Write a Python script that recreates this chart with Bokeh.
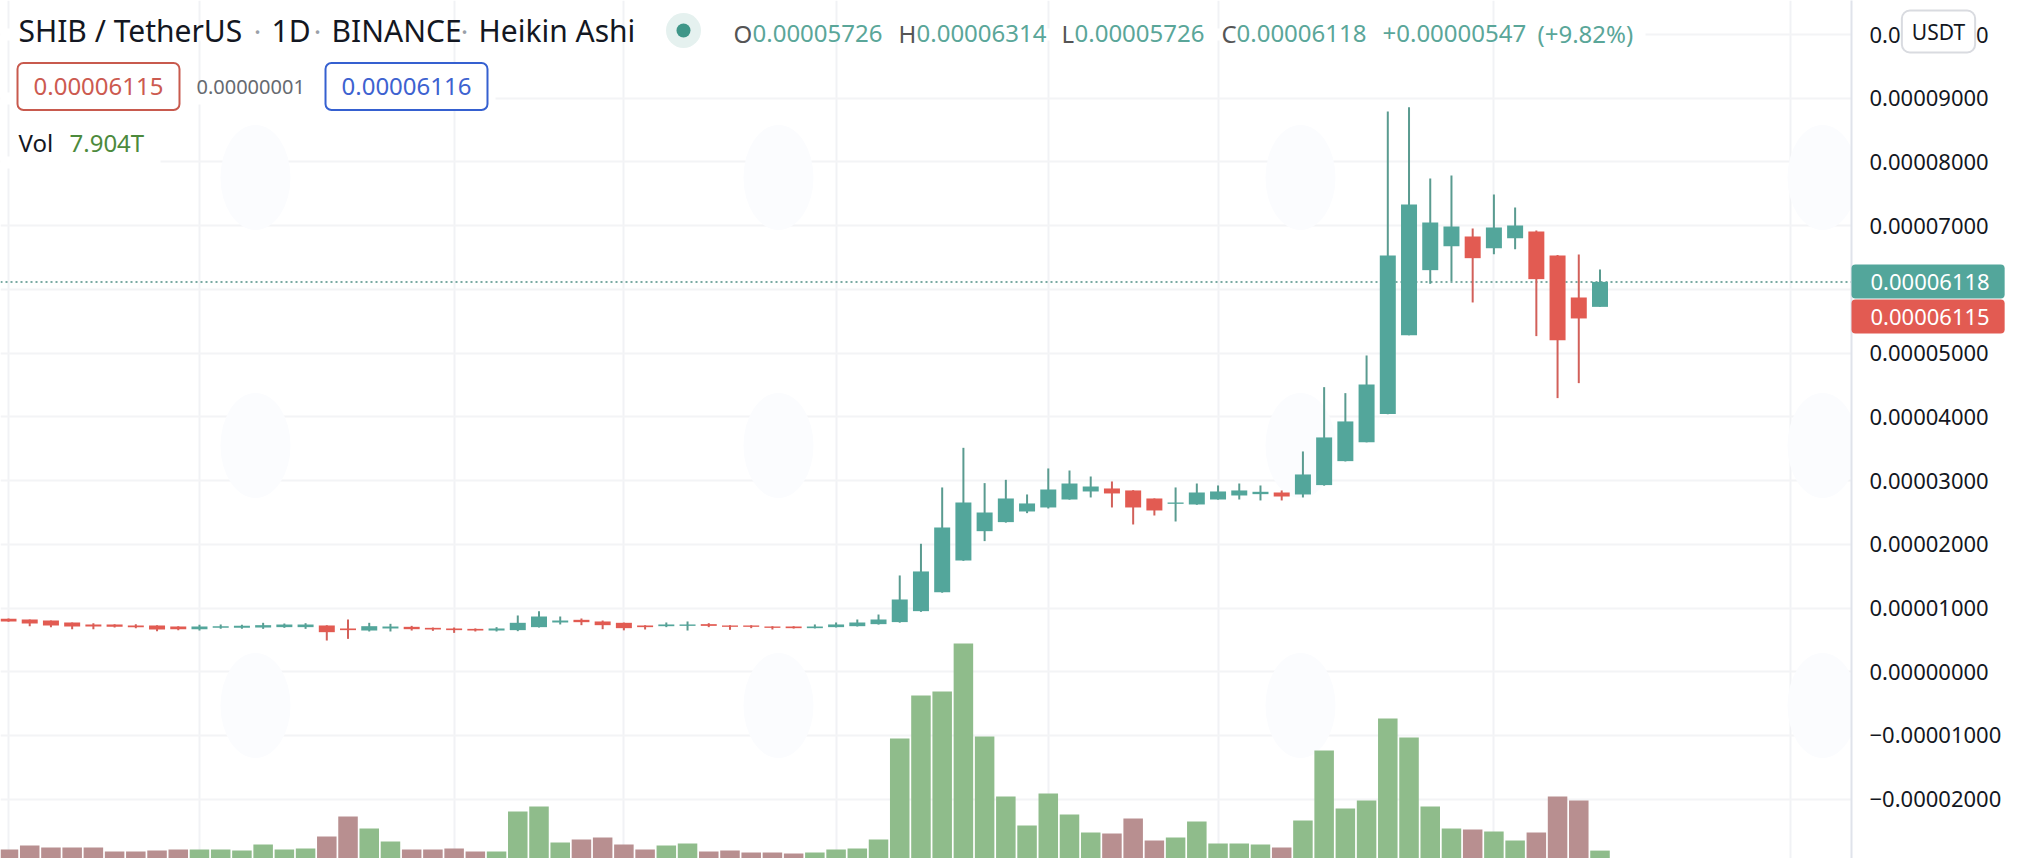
from bokeh.plotting import figure
from bokeh.models import Range1d, FixedTicker, Label, Span
from bokeh.embed import file_html
from bokeh.resources import INLINE

# Prices in units of 0.00001
opens = [.83,.82,.804,.773,.741,.741,.726,.726,.71,.668,.689,.689,.694,.70,.70,.726,.679,.647,.679,.705,.689,.679,.673,.647,
         .653,.70,.773,.815,.789,.768,.726,.715,.72,.747,.726,.726,.71,.71,.684,.70,.715,.747,.779,.951,1.249,1.746,2.206,2.348,
         2.515,2.578,2.703,2.829,2.876,2.845,2.719,2.635,2.625,2.703,2.766,2.787,2.813,2.782,2.929,3.305,3.603,4.043,5.282,
         6.302,6.679,6.83,6.647,6.804,6.909,6.532,5.873,5.726]
closes = [.79,.757,.726,.71,.71,.705,.70,.663,.668,.71,.715,.72,.731,.741,.741,.621,.653,.715,.71,.668,.663,.653,.647,.679,
          .768,.867,.804,.778,.731,.684,.70,.742,.742,.72,.705,.705,.689,.684,.71,.742,.773,.82,1.134,1.574,2.264,2.656,2.499,2.719,
          2.641,2.86,2.954,2.907,2.798,2.578,2.531,2.656,2.813,2.829,2.845,2.824,2.75,3.096,3.677,3.928,4.508,6.532,7.332,
          7.05,6.987,6.49,6.971,7.003,6.161,5.204,5.544,6.118]
highs = [.835,.82,.804,.773,.762,.747,.747,.731,.715,.736,.741,.736,.768,.757,.762,.73,.82,.768,.752,.72,.694,.694,.68,.70,
         .883,.951,.867,.836,.804,.772,.73,.773,.789,.762,.73,.73,.715,.715,.742,.773,.82,.898,1.511,2.008,2.892,3.514,2.96,3.012,
         2.782,3.19,3.158,3.064,2.986,2.85,2.72,2.892,2.954,2.923,2.954,2.923,2.845,3.457,4.466,4.372,4.963,8.791,8.859,
         7.74,7.787,6.956,7.489,7.285,6.924,6.54,6.548,6.314]
lows = [.785,.715,.70,.668,.668,.694,.684,.637,.653,.647,.673,.673,.673,.689,.673,.49,.516,.632,.632,.647,.642,.61,.632,.632,
        .637,.695,.742,.731,.668,.65,.663,.70,.647,.70,.658,.684,.663,.678,.68,.695,.71,.74,.77,.94,1.24,1.74,2.05,2.34,
        2.489,2.562,2.70,2.735,2.578,2.311,2.452,2.358,2.62,2.70,2.703,2.688,2.688,2.735,2.92,3.30,3.60,4.04,5.28,
        6.088,6.129,5.795,6.553,6.631,5.267,4.294,4.529,5.726]
# Volume in trillions
volumes = [9,13,11,11,11,7,7,8,9,9,9,8,14,9,10,22,42,30,17,9,9,10,7,7,
           47,52,16,19,21,14,9,13,15,7,8,6,6,5,6,9,10,19,120,163,167,215,122,62,
           33,65,44,26,25,40,18,21,37,15,15,14,11,38,108,50,58,140,121,52,30,29,27,18,26,62,58,7.904]

price_ticks = [-2,-1,0,1,2,3,4,5,6,7,8,9,10]
price_tick_labels = ["\u22120.00002000","\u22120.00001000","0.00000000","0.00001000","0.00002000","0.00003000",
                     "0.00004000","0.00005000","0.00006000","0.00007000","0.00008000","0.00009000","0.00010000"]
time_grid = [0,9,21,29,39,49,57,70,84]

FONT = "Noto Sans"
TEAL, RED = "#53a69b", "#e25b52"
TEAL_W, RED_W = "#5a9b90", "#d2605a"
VOL_G, VOL_R = "#8fbc8b", "#b88f90"
SCALE = 1e-5

def X(px):
    return (px - 8) / 21.22

def Y(px):
    return (671.25 - px) / 63.725 * SCALE

p = figure(frame_width=1851, frame_height=858, x_range=Range1d(X(0), X(1851)), y_range=Range1d(Y(858), Y(0)),
           y_axis_location="right", x_axis_location=None, toolbar_location=None, output_backend="svg",
           min_border=0, min_border_right=175, min_border_left=0, min_border_top=0, min_border_bottom=0,
           outline_line_color=None, background_fill_color="white", border_fill_color="white")
p.extra_y_ranges = {"vol": Range1d(0, 858)}

p.ygrid.ticker = FixedTicker(ticks=[t * SCALE for t in price_ticks])
p.xgrid.ticker = FixedTicker(ticks=time_grid)
p.ygrid.grid_line_color = "#f3f4f6"
p.xgrid.grid_line_color = "#f1f2f5"
p.ygrid.grid_line_width = 2
p.xgrid.grid_line_width = 2

ax = p.yaxis[0]
ax.ticker = FixedTicker(ticks=[t * SCALE for t in price_ticks])
ax.major_label_overrides = {t * SCALE: s for t, s in zip(price_ticks, price_tick_labels)}
ax.major_tick_out = 0
ax.major_tick_in = 0
ax.minor_tick_out = 0
ax.minor_tick_in = 0
ax.major_label_standoff = 18
ax.major_label_text_font = FONT
ax.major_label_text_font_size = "22px"
ax.major_label_text_color = "#131722"
ax.axis_line_color = "#e0e3eb"
ax.axis_line_width = 2

# faint watermark shapes
wx = [X(v) for v in (255, 778, 1300, 1822)]
wy = [Y(v) for v in (177, 445, 705)]
p.ellipse(x=[a for a in wx for _ in wy], y=[b for _ in wx for b in wy], width=70, height=105,
          width_units="screen", height_units="screen", fill_color="#fbfcfe", line_color=None)

# legend backdrop
for right, mid, h in ((1645, 34, 6), (495, 98, 6), (160, 162, 6)):
    p.quad(left=X(0), right=X(right), top=Y(mid - h), bottom=Y(mid + h), fill_color="white", line_color=None)

idx = list(range(len(opens)))
up = [c >= o for o, c in zip(opens, closes)]

p.add_layout(Span(location=closes[-1] * SCALE, dimension="width", line_color="#4f8f85", line_width=1.5,
                  line_dash="2 3", level="underlay"))

p.vbar(x=idx, width=0.92, bottom=0, top=volumes, y_range_name="vol",
       fill_color=[VOL_G if u else VOL_R for u in up], line_color=None)
p.segment(x0=idx, x1=idx, y0=[v * SCALE for v in lows], y1=[v * SCALE for v in highs],
          line_color=[TEAL_W if u else RED_W for u in up], line_width=2)
p.vbar(x=idx, width=0.754, bottom=[min(a, b) * SCALE for a, b in zip(opens, closes)],
       top=[max(a, b) * SCALE for a, b in zip(opens, closes)],
       fill_color=[TEAL if u else RED for u in up], line_color=None)

# status dot
p.circle(x=[X(683)], y=[Y(30)], radius=17.5, radius_units="screen", fill_color="#e5f1ef", line_color=None)
p.circle(x=[X(683)], y=[Y(30)], radius=7, radius_units="screen", fill_color="#3f9688", line_color=None)

def text(px, py, s, color="#131722", size=24, side="center", **kw):
    p.add_layout(Label(x=X(px), y=Y(py), text=s, text_color=color, text_font=FONT, text_font_size=f"{size}px",
                       text_baseline="middle", text_align=kw.pop("align", "left"), **kw), side)

for px, s in ((18, "SHIB / TetherUS"), (271, "1D"), (331, "BINANCE"), (478, "Heikin Ashi")):
    text(px, 30, s, size=30)
for px in (257, 317, 464):
    text(px, 30, "\u00b7", color="#9aa0a8", size=28, align="center")

VAL = "#5aa699"
for px, s, c in ((733, "O", "#555"), (752, "0.00005726", VAL), (898, "H", "#555"), (916, "0.00006314", VAL),
                 (1061, "L", "#555"), (1074, "0.00005726", VAL), (1221, "C", "#555"), (1236, "0.00006118", VAL),
                 (1382, "+0.00000547", VAL), (1537, "(+9.82%)", VAL)):
    text(px, 33, s, color=c)

text(98, 86, "0.00006115", color="#cc5a50", align="center", border_line_color="#c85a4e", border_line_width=2,
     border_radius=6, padding=(16, 16, 15, 15), background_fill_color="white")
text(196, 86, "0.00000001", color="#666a70", size=20)
text(406, 86, "0.00006116", color="#3d62d0", align="center", border_line_color="#3560d0", border_line_width=2,
     border_radius=6, padding=(16, 16, 15, 15), background_fill_color="white")
text(18, 142, "Vol")
text(69, 142, "7.904T", color="#4c8a3c")

text(1851, 316, "0.00006115", color="white", size=22, side="right", background_fill_color=RED, border_radius=4, padding=(19, 15, 9, 9))
text(1851, 281, "0.00006118", color="white", size=22, side="right", background_fill_color=TEAL, border_radius=4, padding=(19, 15, 9, 9))
text(1938, 31, "USDT", size=21, side="right", align="center", background_fill_color="white", border_line_color="#d9dbe0",
     border_line_width=2, border_radius=8, padding=(10, 10, 7, 7))

open("out.html", "w").write(file_html(p, INLINE))
